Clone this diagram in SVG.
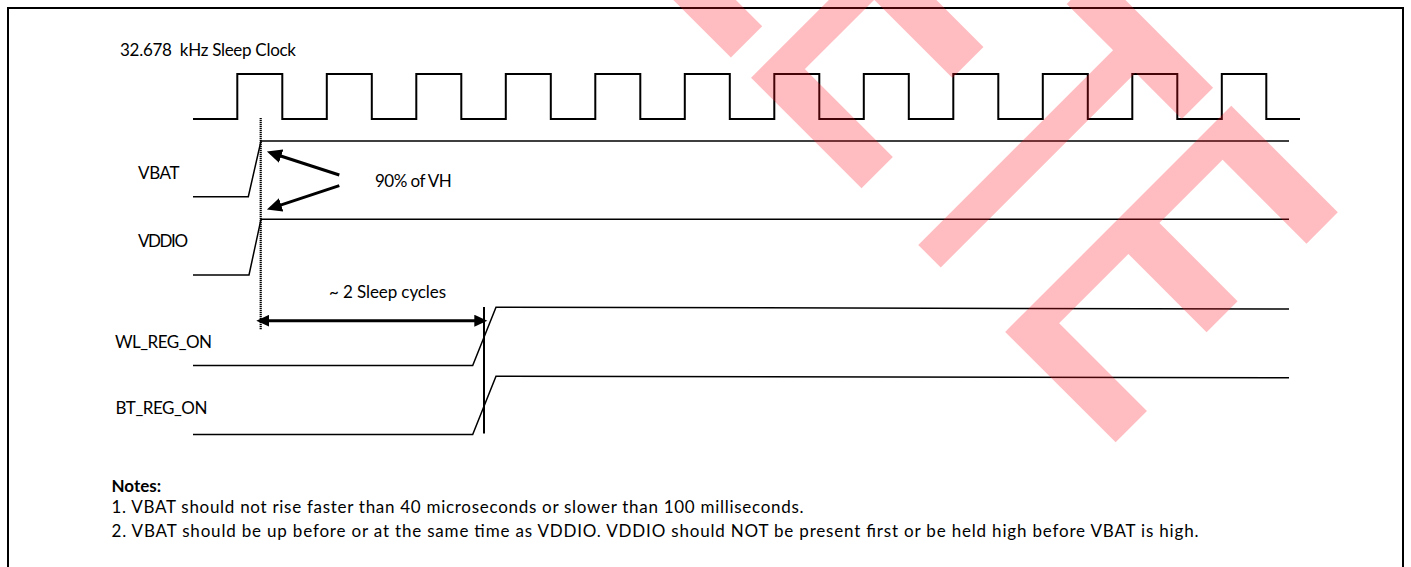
<svg xmlns="http://www.w3.org/2000/svg" width="1411" height="567" viewBox="0 0 1411 567">
<defs>
<style>
.lbl{font-family:Lato,"Open Sans","Liberation Sans",sans-serif;font-size:17px;fill:#000}
.note{font-family:Lato,"Open Sans","Liberation Sans",sans-serif;font-size:17px;fill:#000}
.sig{fill:none;stroke:#000;stroke-width:1.5}
.clk{fill:none;stroke:#000;stroke-width:2}
.arr{fill:none;stroke:#000;stroke-width:3}
</style>
<marker id="ah" markerUnits="userSpaceOnUse" markerWidth="16" markerHeight="14" refX="11" refY="7" orient="auto-start-reverse">
<path d="M0,0 L15,7 L0,14 Z" fill="#000"/>
</marker>
<marker id="ah2" markerUnits="userSpaceOnUse" markerWidth="14" markerHeight="12" refX="9" refY="6" orient="auto-start-reverse">
<path d="M0,0 L13,6 L0,12 Z" fill="#000"/>
</marker>
</defs>
<rect width="1411" height="567" fill="#fff"/>
<rect id="frame" x="8" y="8" width="1395" height="620" fill="none" stroke="#000" stroke-width="2"/>

<g id="clock">
<text class="lbl" x="120" y="56" textLength="176" style="white-space:pre">32.678  kHz Sleep Clock</text>
<path class="clk" d="M193,119 H237.3 V74 H282.3 V119 H326.8 V74 H371.8 V119 H416.3 V74 H461.3 V119 H505.8 V74 H550.8 V119 H595.3 V74 H640.3 V119 H684.8 V74 H729.8 V119 H774.3 V74 H819.3 V119 H863.8 V74 H908.8 V119 H953.3 V74 H998.3 V119 H1042.8 V74 H1087.8 V119 H1132.3 V74 H1177.3 V119 H1221.8 V74 H1266.3 V119 H1300"/>
</g>

<g id="vbat">
<text class="lbl" x="138" y="179" textLength="41.6">VBAT</text>
<path class="sig" d="M193,196.7 H248.3 L261,141 H1289"/>
</g>

<g id="vddio">
<text class="lbl" x="138" y="247" textLength="50">VDDIO</text>
<path class="sig" d="M193,275 H249 L261,219.3 H1289"/>
</g>

<g id="wl_reg_on">
<text class="lbl" x="115" y="347.5" textLength="97">WL_REG_ON</text>
<path class="sig" d="M193,365.5 H472.7 L496,307.3 L1289,309"/>
</g>

<g id="bt_reg_on">
<text class="lbl" x="115.5" y="414" textLength="92">BT_REG_ON</text>
<path class="sig" d="M193,434.5 H472.7 L496,376.3 L1289,377.7"/>
</g>

<g id="vh_note">
<text class="lbl" x="375" y="186.7" textLength="76.7">90% of VH</text>
</g>

<g id="cycles_note">
<text class="lbl" x="329" y="297.7" textLength="117">~ 2 Sleep cycles</text>
</g>

<g id="connectors">
<line x1="260.7" y1="118" x2="260.7" y2="329.5" stroke="#000" stroke-width="2.2" stroke-dasharray="1.2 0.8"/>
<line x1="484" y1="307" x2="484" y2="433.5" stroke="#000" stroke-width="2"/>
<line class="arr" x1="339.3" y1="175" x2="270.7" y2="152.7" stroke-width="2.5" marker-end="url(#ah)"/>
<line class="arr" x1="339.3" y1="185.7" x2="270.7" y2="208.3" stroke-width="2.5" marker-end="url(#ah)"/>
<line class="arr" x1="260.3" y1="320.7" x2="483.3" y2="320.7" marker-start="url(#ah2)" marker-end="url(#ah2)"/>
</g>

<g id="notes">
<text class="note" x="111.5" y="491.5" font-weight="bold">Notes:</text>
<text class="note" x="111.5" y="513.3" textLength="692">1. VBAT should not rise faster than 40 microseconds or slower than 100 milliseconds.</text>
<text class="note" x="111.5" y="536.7" textLength="1087">2. VBAT should be up before or at the same time as VDDIO. VDDIO should NOT be present first or be held high before VBAT is high.</text>
</g>

<g id="watermark" opacity="0.27">
<text transform="translate(336.65,-336.65) rotate(45) scale(0.615,1)" x="-653" y="-5" font-family="'Liberation Sans',Arial,sans-serif" font-size="450.2" letter-spacing="4.55" fill="#ff1020" stroke="#ff1020" stroke-width="10" stroke-linejoin="miter">OBSOLETE</text>
</g>
</svg>
